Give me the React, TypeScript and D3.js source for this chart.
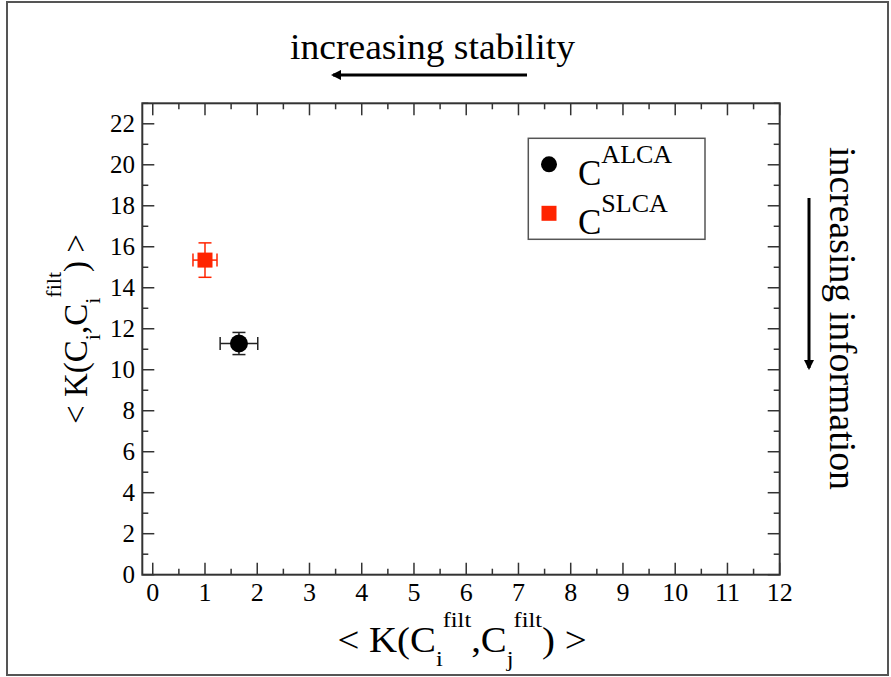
import React, { useEffect, useRef } from 'react';
import * as d3 from 'd3';

// series: [x, y, xErr, yErr]
const seriesNames = ['ALCA', 'SLCA'];
const seriesColors = ['#000000', '#ff2400'];
const xValues = [1.65, 1.0];
const yValues = [11.28, 15.35];
const xErrors = [0.36, 0.23];
const yErrors = [0.54, 0.84];

const xMajorTicks = [0, 1, 2, 3, 4, 5, 6, 7, 8, 9, 10, 11, 12];
const yMajorTicks = [0, 2, 4, 6, 8, 10, 12, 14, 16, 18, 20, 22];

const W = 891;
const H = 677;
const FONT = '"Liberation Serif", "Times New Roman", serif';

const App = () => {
    const ref = useRef<SVGSVGElement>(null);

    useEffect(() => {
        const svg = d3.select(ref.current);
        svg.selectAll('*').remove();

        const plot = { left: 142.3, top: 103.3, right: 779.7, bottom: 574.7 };
        const x = d3.scaleLinear().domain([-0.2, 12]).range([plot.left, plot.right]);
        const y = d3.scaleLinear().domain([0, 23]).range([plot.bottom, plot.top]);

        // outer frame
        svg.append('rect')
            .attr('x', 7).attr('y', 2)
            .attr('width', 881).attr('height', 673)
            .attr('fill', 'none')
            .attr('stroke', '#555')
            .attr('stroke-width', 2);

        const axisColor = '#333';
        const major = 12;
        const minor = 6;
        const g = svg.append('g');

        // ticks on all four sides (inward)
        const xMinor = xMajorTicks.slice(0, -1).map(d => d + 0.5);
        const yMinor = yMajorTicks.map(d => d + 1);
        const tick = (x1: number, y1: number, x2: number, y2: number) =>
            g.append('line')
                .attr('x1', x1).attr('y1', y1).attr('x2', x2).attr('y2', y2)
                .attr('stroke', axisColor).attr('stroke-width', 1.5);

        xMajorTicks.forEach(d => {
            tick(x(d), plot.bottom, x(d), plot.bottom - major);
            tick(x(d), plot.top, x(d), plot.top + major);
        });
        xMinor.forEach(d => {
            tick(x(d), plot.bottom, x(d), plot.bottom - minor);
            tick(x(d), plot.top, x(d), plot.top + minor);
        });
        yMajorTicks.forEach(d => {
            tick(plot.left, y(d), plot.left + major, y(d));
            tick(plot.right, y(d), plot.right - major, y(d));
        });
        yMinor.forEach(d => {
            tick(plot.left, y(d), plot.left + minor, y(d));
            tick(plot.right, y(d), plot.right - minor, y(d));
        });

        g.append('rect')
            .attr('x', plot.left).attr('y', plot.top)
            .attr('width', plot.right - plot.left)
            .attr('height', plot.bottom - plot.top)
            .attr('fill', 'none')
            .attr('stroke', axisColor)
            .attr('stroke-width', 2);

        // tick labels
        g.selectAll('.xlab')
            .data(xMajorTicks)
            .enter().append('text')
            .attr('x', d => x(d))
            .attr('y', 601)
            .attr('text-anchor', 'middle')
            .attr('font-family', FONT)
            .attr('font-size', 26)
            .text(d => d);

        g.selectAll('.ylab')
            .data(yMajorTicks)
            .enter().append('text')
            .attr('x', 135)
            .attr('y', d => y(d) + 8.3)
            .attr('text-anchor', 'end')
            .attr('font-family', FONT)
            .attr('font-size', 25)
            .text(d => d);

        // axis titles
        const xt = svg.append('text')
            .attr('transform', 'translate(462,652) scale(1.11,1)')
            .attr('text-anchor', 'middle')
            .attr('font-family', FONT)
            .attr('font-size', 35);
        xt.append('tspan').text('< K(C');
        xt.append('tspan').attr('font-size', 22).attr('dy', 14).text('i');
        xt.append('tspan').attr('font-size', 22).attr('dy', -39).text('filt');
        xt.append('tspan').attr('dy', 25).text(',C');
        xt.append('tspan').attr('font-size', 22).attr('dy', 14).text('j');
        xt.append('tspan').attr('font-size', 22).attr('dy', -39).text('filt');
        xt.append('tspan').attr('dy', 25).text(') >');

        const yt = svg.append('text')
            .attr('transform', 'translate(87,329) rotate(-90)')
            .attr('text-anchor', 'middle')
            .attr('font-family', FONT)
            .attr('font-size', 33);
        yt.append('tspan').text('< K(C');
        yt.append('tspan').attr('font-size', 22).attr('dy', 13).text('i');
        yt.append('tspan').attr('dy', -13).text(',C');
        yt.append('tspan').attr('font-size', 22).attr('dy', 13).text('i');
        yt.append('tspan').attr('font-size', 22).attr('dy', -39).text('filt');
        yt.append('tspan').attr('dy', 26).text(') >');

        // direction annotations
        const defs = svg.append('defs');
        defs.append('marker')
            .attr('id', 'arrowhead')
            .attr('viewBox', '0 0 10 10')
            .attr('refX', 8).attr('refY', 5)
            .attr('markerWidth', 3.5).attr('markerHeight', 3.5)
            .attr('orient', 'auto')
            .append('path')
            .attr('d', 'M0,0 L10,5 L0,10 Z')
            .attr('fill', '#000');

        svg.append('text')
            .attr('x', 290).attr('y', 59)
            .attr('font-family', FONT)
            .attr('font-size', 35)
            .attr('textLength', 285)
            .attr('lengthAdjust', 'spacingAndGlyphs')
            .text('increasing stability');
        svg.append('line')
            .attr('x1', 527).attr('y1', 75).attr('x2', 333).attr('y2', 75)
            .attr('stroke', '#000').attr('stroke-width', 3)
            .attr('marker-end', 'url(#arrowhead)');

        svg.append('text')
            .attr('transform', 'translate(830,147) rotate(90)')
            .attr('font-family', FONT)
            .attr('font-size', 37)
            .attr('textLength', 343)
            .attr('lengthAdjust', 'spacingAndGlyphs')
            .text('increasing information');
        svg.append('line')
            .attr('x1', 809).attr('y1', 198).attr('x2', 809).attr('y2', 368)
            .attr('stroke', '#000').attr('stroke-width', 3)
            .attr('marker-end', 'url(#arrowhead)');

        // error bars and markers
        const cap = 6.5;
        seriesNames.forEach((name, i) => {
            const cx = x(xValues[i]);
            const cy = y(yValues[i]);
            const x0 = x(xValues[i] - xErrors[i]);
            const x1 = x(xValues[i] + xErrors[i]);
            const y0 = y(yValues[i] - yErrors[i]);
            const y1 = y(yValues[i] + yErrors[i]);
            const col = i === 0 ? '#222' : seriesColors[i];
            const eb = svg.append('g').attr('stroke', col).attr('stroke-width', 1.5);
            eb.append('line').attr('x1', x0).attr('x2', x1).attr('y1', cy).attr('y2', cy);
            eb.append('line').attr('x1', cx).attr('x2', cx).attr('y1', y0).attr('y2', y1);
            eb.append('line').attr('x1', x0).attr('x2', x0).attr('y1', cy - cap).attr('y2', cy + cap);
            eb.append('line').attr('x1', x1).attr('x2', x1).attr('y1', cy - cap).attr('y2', cy + cap);
            eb.append('line').attr('x1', cx - cap).attr('x2', cx + cap).attr('y1', y0).attr('y2', y0);
            eb.append('line').attr('x1', cx - cap).attr('x2', cx + cap).attr('y1', y1).attr('y2', y1);
            if (i === 0) {
                svg.append('circle').attr('cx', cx).attr('cy', cy).attr('r', 9).attr('fill', seriesColors[i]);
            } else {
                svg.append('rect').attr('x', cx - 7.5).attr('y', cy - 7.5)
                    .attr('width', 15).attr('height', 15).attr('fill', seriesColors[i]);
            }
        });

        // legend
        const lg = svg.append('g');
        lg.append('rect')
            .attr('x', 528.3).attr('y', 138.3)
            .attr('width', 176.7).attr('height', 101)
            .attr('fill', '#fff')
            .attr('stroke', '#555')
            .attr('stroke-width', 1.5);
        seriesNames.forEach((name, i) => {
            const ly = 164.3 + i * 49;
            if (i === 0) {
                lg.append('circle').attr('cx', 549).attr('cy', ly).attr('r', 8).attr('fill', seriesColors[i]);
            } else {
                lg.append('rect').attr('x', 541.5).attr('y', ly - 7.5)
                    .attr('width', 15).attr('height', 15).attr('fill', seriesColors[i]);
            }
            const t = lg.append('text')
                .attr('x', 578).attr('y', ly + 21)
                .attr('font-family', FONT)
                .attr('font-size', 35);
            t.append('tspan').text('C');
            t.append('tspan').attr('font-size', 26).attr('dy', -22).text(name);
        });
    }, []);

    return (
        <svg
            ref={ref}
            width={W}
            height={H}
            style={{ position: 'absolute', left: 0, top: 0, background: '#fff' }}
        />
    );
};

export default App;
